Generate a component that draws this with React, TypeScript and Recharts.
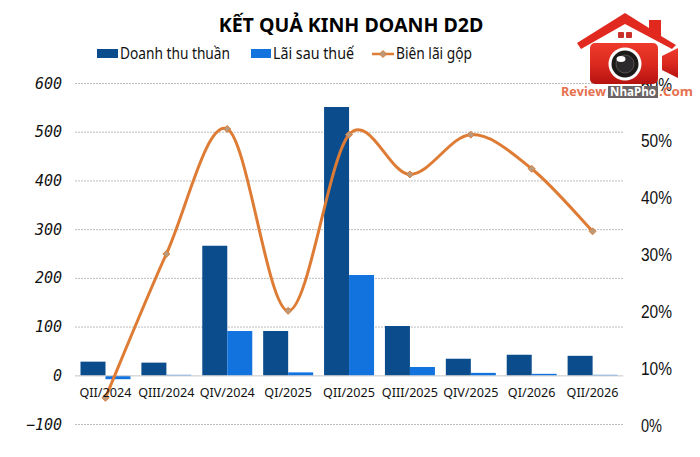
import { ComposedChart, Bar, Line, XAxis, YAxis, CartesianGrid, ReferenceLine } from 'recharts';

const quarters = ['QII/2024', 'QIII/2024', 'QIV/2024', 'QI/2025', 'QII/2025', 'QIII/2025', 'QIV/2025', 'QI/2026', 'QII/2026'];
const revenue = [29, 27, 267, 92, 552, 102, 35, 43, 41];
const profit = [-7, 2, 92, 7, 207, 18, 6, 4, 2];
const grossMargin = [4.7, 30, 52, 20, 51, 44, 51, 45, 34];
const leftTicks = [-100, 0, 100, 200, 300, 400, 500, 600];
const rightTicks = [0, 10, 20, 30, 40, 50, 60];

const DARK = '#0B4C8C';
const LIGHT = '#1273DE';
const ORANGE = '#DE7C35';

const chartData = quarters.map((q, i) => ({
  quarter: q,
  revenue: revenue[i],
  profit: profit[i],
  margin: grossMargin[i],
}));

// Excel style smooth line, overshoots at the peaks (d3-shape is not importable here)
function excelCurve(context: any) {
  let pts: [number, number][] = [];
  return {
    areaStart() {},
    areaEnd() {},
    lineStart() {
      pts = [];
    },
    point(x: number, y: number) {
      pts.push([+x, +y]);
    },
    lineEnd() {
      if (!pts.length) return;
      context.moveTo(pts[0][0], pts[0][1]);
      for (let i = 0; i < pts.length - 1; i++) {
        const p0 = pts[Math.max(i - 1, 0)];
        const p1 = pts[i];
        const p2 = pts[i + 1];
        const p3 = pts[Math.min(i + 2, pts.length - 1)];
        context.bezierCurveTo(
          p1[0] + (p2[0] - p0[0]) / 6,
          p1[1] + (p2[1] - p0[1]) / 6,
          p2[0] - (p3[0] - p1[0]) / 6,
          p2[1] - (p3[1] - p1[1]) / 6,
          p2[0],
          p2[1],
        );
      }
    },
  };
}

function Diamond({ cx, cy }: any) {
  return <path d={`M${cx} ${cy - 3.5}L${cx + 3.5} ${cy}L${cx} ${cy + 3.5}L${cx - 3.5} ${cy}Z`} fill="#B99A7C" stroke={ORANGE} strokeWidth={1} />;
}

function QuarterTick({ x, payload }: any) {
  return (
    <text x={x} y={397} textAnchor="middle" fontFamily="Noto Sans" fontSize={12.6} fill="#111">
      {payload.value}
    </text>
  );
}

function LeftTick({ y, payload }: any) {
  return (
    <text x={62} y={y + 5} textAnchor="end" fontFamily="DejaVu Sans Mono" fontStyle="italic" fontSize={15} fill="#111">
      {payload.value < 0 ? `\u2212${-payload.value}` : payload.value}
    </text>
  );
}

function RightTick({ y, payload }: any) {
  return (
    <text x={641} y={y + 7} fontFamily="Liberation Sans" fontSize={18} textLength={payload.value === 0 ? 21 : 31} lengthAdjust="spacingAndGlyphs" fill="#111">
      {payload.value}%
    </text>
  );
}

function LegendRow() {
  const label = { fontFamily: 'Noto Sans', fontSize: 16, fill: '#111', lengthAdjust: 'spacingAndGlyphs' as const };
  return (
    <svg width={700} height={70} style={{ position: 'absolute', left: 0, top: 0 }}>
      <rect x={97} y={49} width={21} height={9} fill={DARK} />
      <text x={120} y={59} textLength={110} {...label}>Doanh thu thuần</text>
      <rect x={251} y={49} width={20} height={9} fill={LIGHT} />
      <text x={273} y={59} textLength={81} {...label}>Lãi sau thuế</text>
      <line x1={372} y1={54} x2={394} y2={54} stroke={ORANGE} strokeWidth={2.5} />
      <Diamond cx={383} cy={54} />
      <text x={396} y={59} textLength={76} {...label}>Biên lãi gộp</text>
    </svg>
  );
}

function Logo() {
  return (
    <svg width={700} height={110} style={{ position: 'absolute', left: 0, top: 0 }}>
      <defs>
        <linearGradient id="logoRed" x1="0" y1="0" x2="0" y2="1">
          <stop offset="0" stopColor="#EE3A2C" />
          <stop offset="0.5" stopColor="#DC2A20" />
          <stop offset="1" stopColor="#B5130F" />
        </linearGradient>
      </defs>
      <path d="M577 43L625 13L649 28V20H661V36L676 45L672 49L625 24L581 49Z" fill="#E2291F" />
      <rect x={618} y={32} width={6} height={6} rx={1} fill="#C9302A" />
      <rect x={626} y={32} width={6} height={6} rx={1} fill="#C9302A" />
      <rect x={590} y={43} width={68} height={41} rx={5} fill="url(#logoRed)" />
      <path d="M662 56L678 48V78L662 70Z" fill="url(#logoRed)" />
      <circle cx={625} cy={64} r={16.5} fill="#fff" />
      <circle cx={625} cy={64} r={13.5} fill="#1D1A1A" />
      <circle cx={625} cy={64} r={9} fill="#2C2A2C" stroke="#55504F" strokeWidth={1} />
      <ellipse cx={621} cy={59} rx={4.5} ry={3} fill="#fff" />
      <text x={561} y={96} fontFamily="Open Sans" fontWeight={700} fontSize={12.5} fill="#E5714F" textLength={45} lengthAdjust="spacingAndGlyphs">Review</text>
      <rect x={608} y={86} width={50} height={12} fill="#6A6464" />
      <text x={610} y={96} fontFamily="Open Sans" fontWeight={700} fontSize={12.5} fill="#fff" textLength={46} lengthAdjust="spacingAndGlyphs">NhaPho</text>
      <text x={659} y={96} fontFamily="Open Sans" fontWeight={700} fontSize={12.5} fill="#E5714F" textLength={34} lengthAdjust="spacingAndGlyphs">.Com</text>
    </svg>
  );
}

export default function App() {
  return (
    <div style={{ position: 'absolute', left: 0, top: 0, width: 700, height: 457, background: '#fff' }}>
      <ComposedChart
        width={700}
        height={457}
        data={chartData}
        margin={{ top: 83.5, right: 0, left: 0, bottom: 0 }}
        barCategoryGap={5.5}
        barGap={0}
      >
        <CartesianGrid yAxisId="left" vertical={false} stroke="#BDBDBD" strokeDasharray="2 1" />
        <XAxis dataKey="quarter" height={32.5} axisLine={false} tickLine={false} tick={<QuarterTick />} interval={0} />
        <YAxis yAxisId="left" width={75} domain={[-100, 600]} ticks={leftTicks} axisLine={false} tickLine={false} tick={<LeftTick />} />
        <YAxis yAxisId="right" orientation="right" width={77} domain={[0, 60]} ticks={rightTicks} axisLine={false} tickLine={false} tick={<RightTick />} />
        <ReferenceLine yAxisId="left" y={0} stroke="#D9D9D9" />
        <Bar yAxisId="left" dataKey="revenue" name="Doanh thu thuần" fill={DARK} isAnimationActive={false} />
        <Bar yAxisId="left" dataKey="profit" name="Lãi sau thuế" fill={LIGHT} isAnimationActive={false} />
        <Line
          yAxisId="right"
          dataKey="margin"
          name="Biên lãi gộp"
          type={excelCurve as any}
          stroke={ORANGE}
          strokeWidth={3}
          dot={<Diamond />}
          isAnimationActive={false}
        />
      </ComposedChart>
      <div style={{ position: 'absolute', left: 0, top: 11, width: 700, paddingLeft: 2, boxSizing: 'border-box', textAlign: 'center', fontFamily: 'Noto Sans', fontWeight: 700, fontSize: 19.6, color: '#000' }}>
        KẾT QUẢ KINH DOANH D2D
      </div>
      <LegendRow />
      <Logo />
    </div>
  );
}
